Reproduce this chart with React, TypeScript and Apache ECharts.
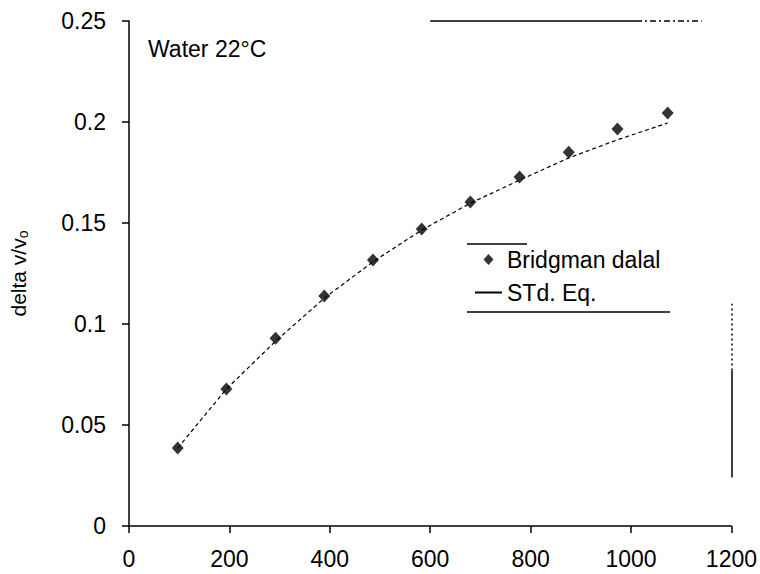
import React, { useEffect, useRef } from "react";
import * as echarts from "echarts";

const pressure = [97, 194, 292, 389, 486, 583, 680, 778, 876, 973, 1073];
const bridgmanData = [0.0386, 0.0678, 0.093, 0.1139, 0.1317, 0.147, 0.1604, 0.1728, 0.185, 0.1965, 0.2045];
const stdEq = [0.0386, 0.0678, 0.0915, 0.1128, 0.1308, 0.1465, 0.1598, 0.1712, 0.1822, 0.1912, 0.1995];
const xTicks = [0, 200, 400, 600, 800, 1000, 1200];
const yTicks = [0, 0.05, 0.1, 0.15, 0.2, 0.25];
const titleText = "Water 22°C";
const seriesNames = ["Bridgman dalal", "STd. Eq."];

const FONT = "Liberation Sans, Arial, sans-serif";

export default function App() {
  const ref = useRef<HTMLDivElement>(null);
  useEffect(() => {
    if (!ref.current) return;
    const chart = echarts.init(ref.current, null, { renderer: "svg" });
    chart.setOption({
      animation: false,
      backgroundColor: "#ffffff",
      textStyle: { fontFamily: FONT, color: "#000" },
      title: {
        text: titleText,
        left: 143,
        top: 32,
        textStyle: { fontFamily: FONT, fontSize: 23, fontWeight: "normal", color: "#000" },
      },
      legend: {
        orient: "vertical",
        left: 475,
        top: 248,
        padding: 0,
        itemGap: 10,
        itemWidth: 27,
        itemHeight: 11,
        symbolKeepAspect: true,
        textStyle: { fontFamily: FONT, fontSize: 23, color: "#000" },
        data: [
          { name: seriesNames[0], icon: "path://M5,0 L10,5.5 L5,11 L0,5.5 Z" },
          { name: seriesNames[1], icon: "path://M0,0 L27,0 L27,2 L0,2 Z" },
        ],
      },
      grid: { left: 123, right: 28, top: 21, bottom: 48, containLabel: false },
      xAxis: {
        type: "value",
        min: xTicks[0],
        max: xTicks[xTicks.length - 1],
        interval: 200,
        axisLine: { show: true, onZero: false, lineStyle: { color: "#000", width: 1.5 } },
        axisTick: { show: true, inside: false, length: 7, lineStyle: { color: "#000", width: 1.5 } },
        axisLabel: {
          fontFamily: FONT,
          fontSize: 23,
          color: "#000",
          margin: 21,
          formatter: (v: number) => String(v),
        },
        splitLine: { show: false },
      },
      yAxis: {
        type: "value",
        min: yTicks[0],
        max: yTicks[yTicks.length - 1],
        interval: 0.05,
        name: "{a|delta v/v}{s|o}",
        nameLocation: "middle",
        nameGap: 99,
        nameRotate: 90,
        nameTextStyle: {
          rich: {
            a: { fontFamily: FONT, fontSize: 21, color: "#000" },
            s: { fontFamily: FONT, fontSize: 14, color: "#000", verticalAlign: "bottom", padding: [9, 0, 0, 0] },
          },
        },
        axisLine: { show: true, onZero: false, lineStyle: { color: "#000", width: 1.5 } },
        axisTick: { show: true, inside: false, length: 7, lineStyle: { color: "#000", width: 1.5 } },
        axisLabel: {
          fontFamily: FONT,
          fontSize: 23,
          color: "#000",
          margin: 23,
          formatter: (v: number) => String(v),
        },
        splitLine: { show: false },
      },
      series: [
        {
          name: seriesNames[0],
          type: "scatter",
          symbol: "diamond",
          symbolSize: [12, 13],
          itemStyle: { color: "#000" },
          data: pressure.map((x, i) => [x, bridgmanData[i]]),
          z: 3,
        },
        {
          name: seriesNames[1],
          type: "line",
          symbol: "none",
          showSymbol: false,
          lineStyle: { color: "#000", width: 1.2, type: [4, 3] },
          itemStyle: { color: "#000" },
          data: pressure.map((x, i) => [x, stdEq[i]]),
          markLine: {
            silent: true,
            symbol: "none",
            label: { show: false },
            lineStyle: { color: "#000", width: 1.5, type: "solid" },
            data: [
              [{ coord: [600, 0.25] }, { coord: [1010, 0.25] }],
              [{ coord: [1010, 0.25], lineStyle: { type: [6, 3, 2, 3] } }, { coord: [1141, 0.25] }],
              [{ coord: [1200, 0.024] }, { coord: [1200, 0.077] }],
              [{ coord: [1200, 0.077], lineStyle: { type: [2, 3] } }, { coord: [1200, 0.11] }],
            ],
          },
        },
      ],
      graphic: [
        { type: "line", shape: { x1: 467, y1: 244, x2: 527, y2: 244 }, style: { stroke: "#000", lineWidth: 1.5 } },
        { type: "line", shape: { x1: 467, y1: 312, x2: 670, y2: 312 }, style: { stroke: "#000", lineWidth: 1.5 } },
      ],
    });
    return () => chart.dispose();
  }, []);
  return (
    <div
      ref={ref}
      style={{ position: "fixed", left: 0, top: 0, width: 760, height: 574, background: "#fff" }}
    />
  );
}
